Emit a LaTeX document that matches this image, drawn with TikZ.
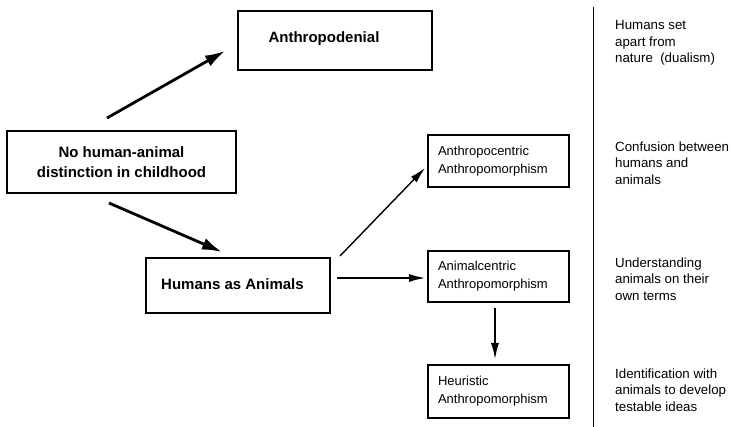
\documentclass[tikz,border=0pt]{standalone}
\usepackage{fontspec}
\setmainfont{Liberation Sans}
\usetikzlibrary{arrows.meta}
\begin{document}
\begin{tikzpicture}[x=1pt,y=-1pt,
  bigbox/.style={draw, line width=1.2pt, inner sep=0pt},
  bigfont/.style={font=\bfseries\fontsize{15}{20}\selectfont},
  smallbox/.style={draw, line width=1.1pt, minimum width=141pt, text width=121pt,
    inner xsep=10pt, inner ysep=0pt, align=left, font=\fontsize{13}{18}\selectfont},
  thickarrow/.style={line width=2.8pt, -{Latex[length=20pt,width=12pt]}},
  thinarrow/.style={line width=1.4pt, -{Latex[length=16pt,width=8pt]}},
  note/.style={anchor=west, align=left, inner sep=0pt, font=\fontsize{13.3}{16.5}\selectfont}]
\useasboundingbox (0,0) rectangle (731,427);

% main boxes
\node[bigbox, minimum width=194pt, minimum height=59pt,
  label={[bigfont, xshift=-11pt, yshift=2pt]center:Anthropodenial}] (anth) at (335,40.5) {};
\node[bigbox, bigfont, minimum width=229pt, minimum height=62pt, align=center] (nohuman) at (121.5,162)
  {No human-animal\\distinction in childhood};
\node[bigbox, minimum width=184pt, minimum height=55pt,
  label={[bigfont, xshift=-5.5pt, yshift=1pt]center:Humans as Animals}] (hanim) at (238,285.5) {};

% small boxes
\node[smallbox, minimum height=52pt] (centric) at (498.5,161) {Anthropocentric\\Anthropomorphism};
\node[smallbox, minimum height=51pt] (animal) at (498.5,276.5) {Animalcentric\\Anthropomorphism};
\node[smallbox, minimum height=53pt] (heur) at (498.5,391.5) {Heuristic\\Anthropomorphism};

% arrow end points
\coordinate (a1s) at (107,118);
\coordinate (a1e) at (225,51);
\coordinate (a2s) at (109,203);
\coordinate (a2e) at (222,252);
\coordinate (a3s) at (340,256);
\coordinate (a3e) at (425,168);
\coordinate (a4s) at (337,278);
\coordinate (a4e) at (425,278);
\coordinate (a5s) at (495,308);
\coordinate (a5e) at (495,359);

\draw[thickarrow] (a1s) -- (a1e);
\draw[thickarrow] (a2s) -- (a2e);
\draw[thinarrow] (a3s) -- (a3e);
\draw[thinarrow] (a4s) -- (a4e);
\draw[thinarrow] (a5s) -- (a5e);

% divider
\coordinate (vt) at (593,7);
\coordinate (vb) at (593,427);
\draw[line width=1pt] (vt) -- (vb);

% notes
\node[note] (n1) at (615,43) {Humans set\\apart from\\nature~~(dualism)};
\node[note] (n2) at (615,163) {Confusion between\\humans and\\animals};
\node[note] (n3) at (615,279) {Understanding\\animals on their\\own terms};
\node[note] (n4) at (615,390) {Identification with\\animals to develop\\testable ideas};
\end{tikzpicture}
\end{document}
